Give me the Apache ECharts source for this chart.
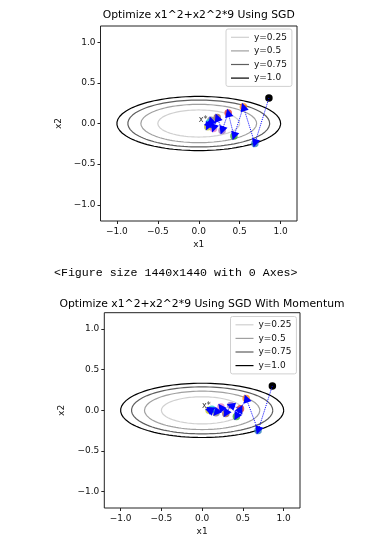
<!DOCTYPE html>
<html>
<head>
<meta charset="utf-8">
<script src="https://cdn.jsdelivr.net/npm/echarts@6/dist/echarts.min.js"></script>
<style>
  html, body { margin: 0; padding: 0; background: #fff; }
  #chart { width: 375px; height: 551px; }
</style>
</head>
<body>
<div id="chart"></div>
<script>
// contour levels of f = x1^2 + 9*x2^2
const levels = [0.25, 0.5, 0.75, 1.0];
const levelNames = ['y=0.25', 'y=0.5', 'y=0.75', 'y=1.0'];
const levelColors = ['#d0d0d0', '#a0a0a0', '#5e5e5e', '#000000'];
const tickValues = [-1.0, -0.5, 0.0, 0.5, 1.0];

// SGD trajectory
const sgdX1 = [0.857, 0.685, 0.545, 0.43, 0.36, 0.285, 0.225, 0.18, 0.15, 0.11, 0.13];
const sgdX2 = [0.313, -0.245, 0.205, -0.155, 0.13, -0.085, 0.075, -0.06, 0.04, -0.04, 0.01];

// SGD with momentum trajectory
const momX1 = [0.861, 0.686, 0.54, 0.42, 0.47, 0.35, 0.29, 0.23, 0.17, 0.085, 0.12];
const momX2 = [0.30, -0.248, 0.147, -0.077, 0.02, 0.06, -0.04, 0.04, -0.03, 0.0, 0.015];

const pointColors = ['#000000', '#1f77b4', '#ff7f0e', '#2ca02c', '#d62728', '#9467bd',
  '#8c564b', '#e377c2', '#7f7f7f', '#bcbd22', '#17becf'];

const fmt = v => (v < 0 ? '\u2212' : '') + Math.abs(v).toFixed(1);
const txt = { fontFamily: 'DejaVu Sans', fontSize: 9, color: '#111' };

function ellipse(c) {
  const pts = [];
  for (let i = 0; i <= 120; i++) {
    const t = (i / 120) * Math.PI * 2;
    pts.push([Math.sqrt(c) * Math.cos(t), Math.sqrt(c) / 3 * Math.sin(t)]);
  }
  return pts;
}

function axisX(idx) {
  return {
    type: 'value', gridIndex: idx, min: -1.2, max: 1.2,
    name: 'x1', nameLocation: 'middle', nameGap: 19, nameTextStyle: txt,
    axisLine: { show: false, onZero: false },
    axisTick: { show: true, length: 3, customValues: tickValues, lineStyle: { color: '#222' } },
    axisLabel: Object.assign({ customValues: tickValues, formatter: fmt, margin: 6 }, txt),
    splitLine: { show: false }
  };
}
function axisY(idx, gap) {
  return {
    type: 'value', gridIndex: idx, min: -1.2, max: 1.2,
    name: 'x2', nameLocation: 'middle', nameGap: gap, nameTextStyle: txt,
    axisLine: { show: false, onZero: false },
    axisTick: { show: true, length: 3, customValues: tickValues, lineStyle: { color: '#222' } },
    axisLabel: Object.assign({ customValues: tickValues, formatter: fmt, margin: 5 }, txt),
    splitLine: { show: false }
  };
}

function plotSeries(idx, xs, ys) {
  const out = [];
  levels.forEach((c, k) => {
    out.push({
      type: 'line', name: levelNames[k], xAxisIndex: idx, yAxisIndex: idx,
      data: ellipse(c), symbol: 'none', color: levelColors[k],
      lineStyle: { width: 1.2, color: levelColors[k] }, silent: true, z: 2
    });
  });
  out.push({
    type: 'scatter', xAxisIndex: idx, yAxisIndex: idx, symbolSize: 7.5, z: 3,
    data: xs.map((x, i) => ({
      value: [x, ys[i]],
      itemStyle: { color: pointColors[i % pointColors.length], opacity: i === 0 ? 1 : 0.75 }
    }))
  });
  out.push({
    type: 'lines', coordinateSystem: 'cartesian2d', xAxisIndex: idx, yAxisIndex: idx, z: 4,
    symbol: ['none', 'triangle'], symbolSize: [6.5, 8.5],
    lineStyle: { color: '#0000ff', width: 1, type: 'dotted', opacity: 1 },
    data: xs.slice(0, -1).map((x, i) => ({ coords: [[x, ys[i]], [xs[i + 1], ys[i + 1]]] }))
  });
  out.push({
    type: 'scatter', xAxisIndex: idx, yAxisIndex: idx, symbolSize: 0.1, z: 5, silent: true,
    data: [[0, 0]],
    label: { show: true, formatter: 'x*', position: [0, 0], align: 'left', verticalAlign: 'bottom',
      fontFamily: 'DejaVu Sans', fontSize: 8, color: '#000' }
  });
  return out;
}

function legendAt(left, top) {
  return {
    data: levelNames, orient: 'vertical', left: left, top: top,
    icon: 'rect', padding: [2.8, 5, 2.8, 5], itemWidth: 18, itemHeight: 1.2, itemGap: 2.6,
    borderColor: '#d0d0d0', borderWidth: 1, borderRadius: 2, backgroundColor: '#fff',
    textStyle: Object.assign({ lineHeight: 11 }, txt), selectedMode: false
  };
}

const chart = echarts.init(document.getElementById('chart'));
chart.setOption({
  animation: false,
  grid: [
    { left: 100.5, top: 26, width: 196.5, height: 195, show: true, borderColor: '#222', borderWidth: 1 },
    { left: 104.3, top: 312.7, width: 195.7, height: 195.3, show: true, borderColor: '#222', borderWidth: 1 }
  ],
  xAxis: [axisX(0), axisX(1)],
  yAxis: [axisY(0, 28), axisY(1, 26)],
  legend: [legendAt(226, 29), legendAt(230.5, 316.5)],
  series: plotSeries(0, sgdX1, sgdX2).concat(plotSeries(1, momX1, momX2)),
  graphic: [
    { type: 'text', x: 198.7, y: 15, style: { text: 'Optimize x1^2+x2^2*9 Using SGD', align: 'center', verticalAlign: 'middle', font: '10.8px "DejaVu Sans"', fill: '#000' } },
    { type: 'text', x: 54, y: 273, style: { text: '<Figure size 1440x1440 with 0 Axes>', align: 'left', verticalAlign: 'middle', font: '11.6px "Liberation Mono"', fill: '#000' } },
    { type: 'text', x: 202, y: 304, style: { text: 'Optimize x1^2+x2^2*9 Using SGD With Momentum', align: 'center', verticalAlign: 'middle', font: '10.8px "DejaVu Sans"', fill: '#000' } }
  ]
});
</script>
</body>
</html>
